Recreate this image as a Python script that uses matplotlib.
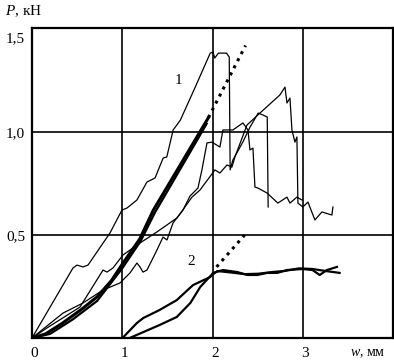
import matplotlib
matplotlib.use("Agg")
import matplotlib.pyplot as plt

plt.rcParams["font.family"] = ["Liberation Serif", "DejaVu Serif"]
plt.rcParams["mathtext.fontset"] = "custom"
plt.rcParams["mathtext.rm"] = "Liberation Serif"
plt.rcParams["mathtext.it"] = "Liberation Serif:italic"

# curve A (steepest thin curve)
a_w = [0, 0.453, 0.497, 0.564, 0.619, 0.862, 0.994, 1.05, 1.16, 1.27, 1.36, 1.45, 1.49,
       1.56, 1.64, 1.80, 1.97, 2.0, 2.02, 2.06, 2.15, 2.18, 2.19, 2.22, 2.33, 2.41, 2.50,
       2.55, 2.60, 2.61]
a_p = [0, 0.340, 0.354, 0.345, 0.354, 0.510, 0.621, 0.631, 0.670, 0.757, 0.777, 0.874, 0.879,
       1.010, 1.058, 1.214, 1.383, 1.388, 1.359, 1.383, 1.383, 1.364, 0.816, 0.864, 0.951, 1.024, 1.092,
       1.083, 1.073, 0.636]

# curve B (middle thin curve)
b_w = [0, 0.166, 0.530, 0.785, 0.829, 0.895, 1.006, 1.083, 1.193, 1.381, 1.492, 1.602, 1.669,
       1.746, 1.834, 1.878, 1.934, 1.989, 2.077, 2.110, 2.221, 2.331, 2.387, 2.409, 2.442,
       2.464, 2.497, 2.597, 2.718, 2.818, 2.851, 2.928, 2.983]
b_p = [0, 0.049, 0.150, 0.330, 0.320, 0.340, 0.403, 0.427, 0.461, 0.515, 0.549, 0.583, 0.621,
       0.689, 0.728, 0.816, 0.947, 0.951, 0.927, 1.010, 1.010, 1.044, 1.010, 0.913, 0.922,
       0.733, 0.728, 0.704, 0.655, 0.684, 0.655, 0.684, 0.670]

# curve C (lowest thin curve)
c_w = [0, 0.343, 0.564, 0.785, 0.972, 1.083, 1.160, 1.193, 1.227, 1.271, 1.381, 1.448, 1.492,
       1.558, 1.635, 1.768, 1.856, 2.022, 2.077, 2.155, 2.210, 2.243, 2.376, 2.519, 2.740,
       2.796, 2.818, 2.851, 2.873, 2.906, 2.928, 2.939, 2.994, 3.050, 3.127, 3.204, 3.315, 3.326]
c_p = [0, 0.121, 0.170, 0.233, 0.267, 0.316, 0.364, 0.345, 0.320, 0.330, 0.427, 0.490, 0.476,
       0.558, 0.602, 0.684, 0.718, 0.816, 0.801, 0.840, 0.830, 0.879, 1.034, 1.092, 1.180,
       1.218, 1.141, 1.165, 1.010, 0.951, 0.976, 0.655, 0.636, 0.660, 0.573, 0.612, 0.597, 0.636]

# thick loading curves, group 1
t1_w = [0, 0.15, 0.33, 0.55, 0.72, 0.88, 1.0, 1.19, 1.34, 1.95]
t1_p = [0, 0.02, 0.07, 0.14, 0.20, 0.28, 0.36, 0.48, 0.62, 1.07]
t2_w = [0, 0.2, 0.45, 0.72, 1.0, 1.2, 1.36, 1.93]
t2_p = [0, 0.02, 0.09, 0.18, 0.34, 0.47, 0.61, 1.04]

# group 2 loop and plateau
g2a_w = [1.0, 1.16, 1.23, 1.41, 1.60, 1.78, 1.97, 2.0, 2.11, 2.27, 2.38, 2.49, 2.60, 2.71,
         2.82, 2.99, 3.10, 3.18, 3.26, 3.37]
g2a_p = [0, 0.073, 0.097, 0.136, 0.184, 0.257, 0.296, 0.316, 0.330, 0.320, 0.306, 0.306, 0.316, 0.316,
         0.330, 0.335, 0.330, 0.306, 0.330, 0.345]
g2b_w = [1.08, 1.41, 1.60, 1.75, 1.86, 1.97, 2.05, 2.2, 2.35, 2.5, 2.65, 2.8, 2.95, 3.1, 3.25, 3.40]
g2b_p = [0, 0.063, 0.102, 0.170, 0.248, 0.300, 0.325, 0.318, 0.310, 0.312, 0.320, 0.326, 0.338, 0.335, 0.325, 0.316]

# dotted extrapolations
d1_w = [1.95, 2.36]
d1_p = [1.07, 1.42]
d2_w = [2.04, 2.35]
d2_p = [0.345, 0.50]

x_ticks = [0, 1, 2, 3]
y_ticks = [0.5, 1.0, 1.5]
y_tick_labels = ["0,5", "1,0", "1,5"]

fig = plt.figure(figsize=(3.94, 3.61), dpi=100)
ax = fig.add_axes([32 / 394, 23 / 361, 361 / 394, 310 / 361])
ax.set_xlim(0, 3.99)
ax.set_ylim(0, 1.505)

for xv in x_ticks[1:]:
    ax.axvline(xv, color="black", lw=1.2, zorder=1)
for yv in y_ticks[:-1]:
    ax.axhline(yv, color="black", lw=1.2, zorder=1)

ax.plot(a_w, a_p, color="black", lw=0.9)
ax.plot(b_w, b_p, color="black", lw=0.9)
ax.plot(c_w, c_p, color="black", lw=0.9)
ax.plot(t1_w, t1_p, color="black", lw=2.2)
ax.plot(t2_w, t2_p, color="black", lw=1.6)
ax.plot(g2a_w, g2a_p, color="black", lw=1.6)
ax.plot(g2b_w, g2b_p, color="black", lw=1.6)
ax.plot(d1_w, d1_p, color="black", lw=2.2, linestyle=(0, (1, 1.6)))
ax.plot(d2_w, d2_p, color="black", lw=2.2, linestyle=(0, (1, 1.6)))

ax.text(1.62, 1.25, "1", fontsize=11, ha="center", va="center")
ax.text(1.76, 0.37, "2", fontsize=11, ha="center", va="center")

for sp in ax.spines.values():
    sp.set_linewidth(1.6)
ax.set_xticks([])
ax.set_yticks([])

for xv in x_ticks:
    ax.text(xv + 0.02, -0.075, str(xv), fontsize=11, ha="center", va="center", clip_on=False)
for yv, lab in zip(y_ticks, y_tick_labels):
    ypos = yv - 0.045 if yv == 1.5 else yv - 0.01
    ax.text(-0.075, ypos, lab, fontsize=11, ha="right", va="center", clip_on=False)
ax.text(3.71, -0.075, "$w$, мм", fontsize=10, ha="center", va="center", clip_on=False)
fig.text(5 / 394, 1 - 11 / 361, "$P$, кН", fontsize=11, ha="left", va="center")

fig.savefig("out.png", dpi=100)
